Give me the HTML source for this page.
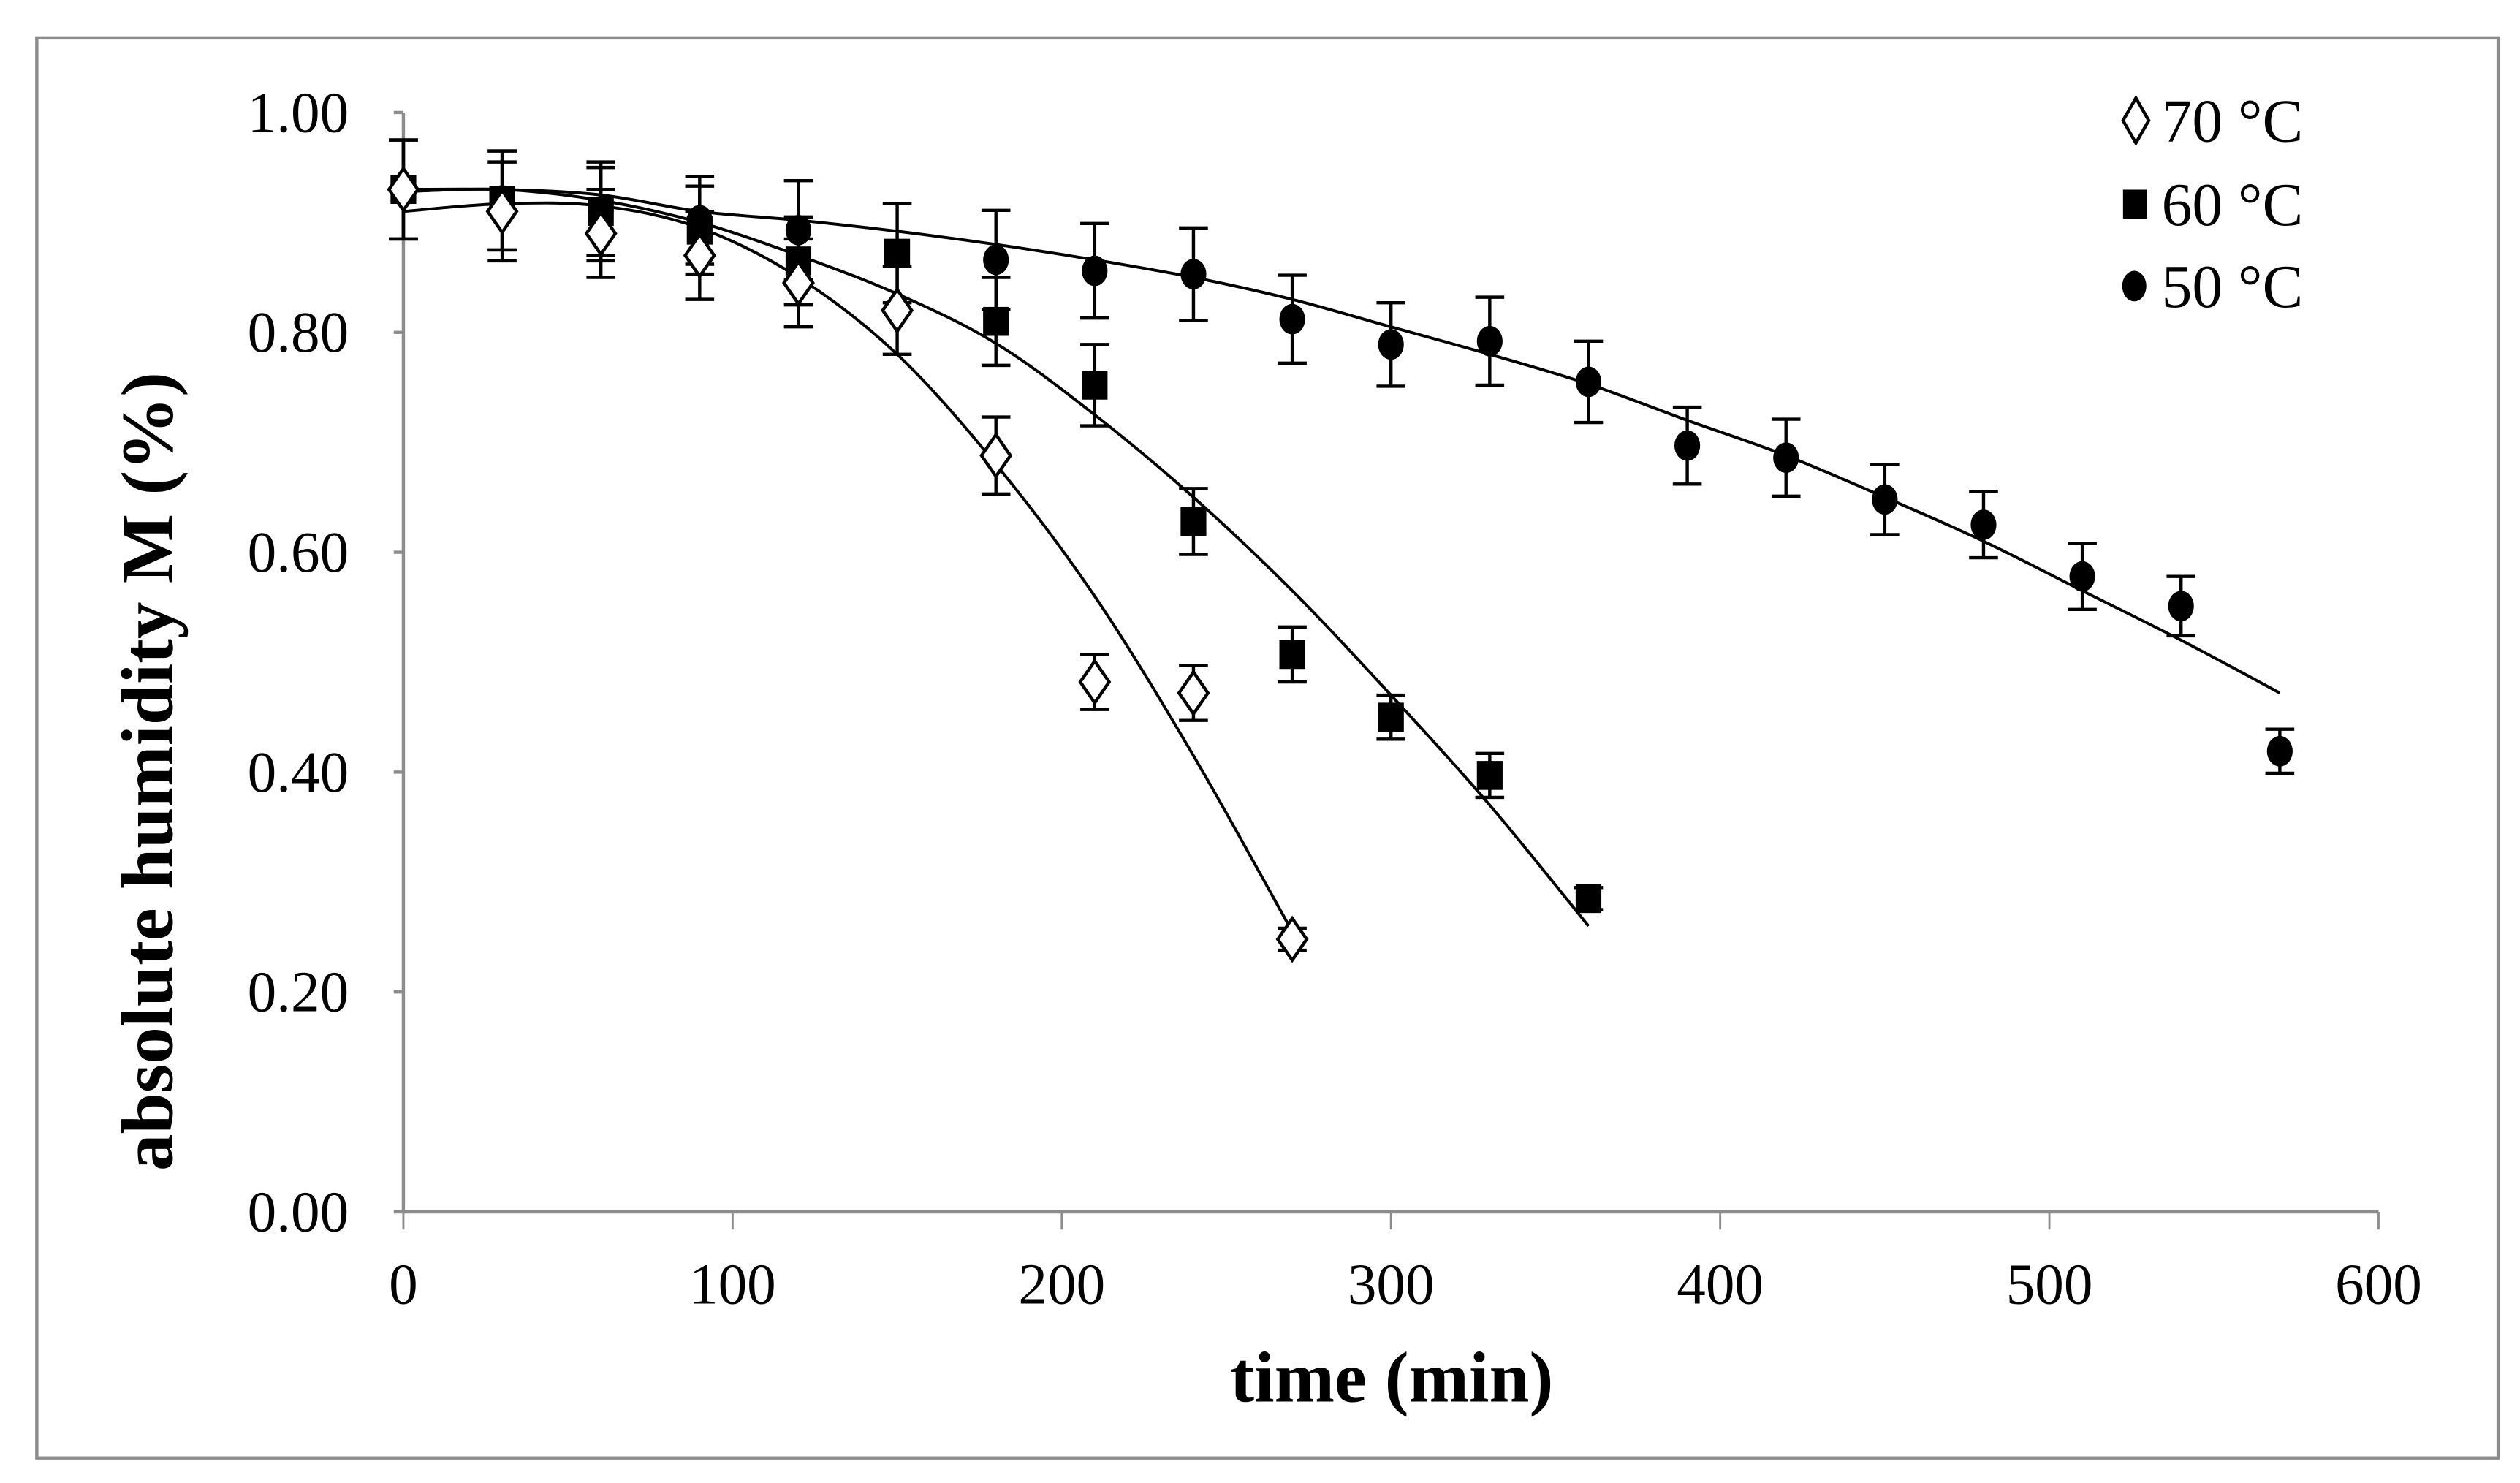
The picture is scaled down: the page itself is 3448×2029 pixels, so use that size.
<!DOCTYPE html>
<html><head><meta charset="utf-8"><style>html,body{margin:0;padding:0;background:#fff}svg{display:block}text{font-family:"Liberation Serif",serif}</style></head>
<body>
<svg id="chart" width="3448" height="2029" viewBox="0 0 1568 922.7" xmlns="http://www.w3.org/2000/svg">
<rect x="22.9" y="23.6" width="1531.5" height="883.5" fill="#fff" stroke="#8c8c8c" stroke-width="2"/>
<g id="axes"></g>
<g id="marks"></g>
<g>
<path d="M1329,61 L1337,75 L1329,89 L1321,75 Z" fill="#fff" stroke="#000" stroke-width="2"/>
<text x="1345" y="88" font-size="38">70 °C</text>
<rect x="1321" y="118" width="15" height="18" fill="#000"/>
<text x="1345" y="140" font-size="38">60 °C</text>
<ellipse cx="1328" cy="178" rx="7.5" ry="9.5" fill="#000"/>
<text x="1345" y="191" font-size="38">50 °C</text>
</g>
<text x="866" y="872" font-size="45" font-weight="bold" text-anchor="middle">time (min)</text>
<text transform="translate(107,480) rotate(-90)" font-size="46" font-weight="bold" text-anchor="middle">absolute humidity M (%)</text>
</svg>
<script>
const xTicks = [0,100,200,300,400,500,600];
const yTicks = [0,0.2,0.4,0.6,0.8,1.0];
const yTickLabels = ["0.00","0.20","0.40","0.60","0.80","1.00"];
const t70 = [0,30,60,90,120,150,180,210,240,270];
const m70 = [0.93,0.91,0.89,0.87,0.845,0.82,0.688,0.482,0.472,0.248];
const e70 = [0.045,0.045,0.04,0.04,0.04,0.04,0.035,0.025,0.025,0.01];
const t60 = [0,30,60,90,120,150,180,210,240,270,300,330,360];
const m60 = [0.93,0.92,0.91,0.893,0.865,0.872,0.81,0.752,0.628,0.507,0.45,0.397,0.285];
const e60 = [0.045,0.045,0.045,0.04,0.04,0.045,0.04,0.037,0.03,0.025,0.02,0.02,0.01];
const t50 = [0,30,60,90,120,180,210,240,270,300,330,360,390,420,450,480,510,540,570];
const m50 = [0.93,0.92,0.91,0.902,0.893,0.866,0.856,0.853,0.812,0.789,0.792,0.755,0.697,0.686,0.648,0.625,0.578,0.551,0.419];
const e50 = [0.045,0.045,0.04,0.04,0.045,0.045,0.043,0.042,0.04,0.038,0.04,0.037,0.035,0.035,0.032,0.03,0.03,0.027,0.02];
const fitT50 = [0,30,60,90,120,150,180,210,240,270,300,330,360,390,420,450,480,510,540,570];
const fit70 = [0.91,0.917,0.915,0.895,0.85,0.78,0.68,0.56,0.415,0.255];
const fit60 = [0.928,0.93,0.92,0.9,0.87,0.835,0.79,0.725,0.65,0.565,0.47,0.37,0.26];
const fit50 = [0.93,0.93,0.925,0.91,0.902,0.892,0.88,0.866,0.85,0.83,0.805,0.78,0.753,0.72,0.688,0.65,0.61,0.565,0.52,0.472];

const NS="http://www.w3.org/2000/svg";
const X0=251, X1=1480, Y0=754, Y1=70;
function xs(v){return X0+(v/600)*(X1-X0);}
function ys(v){return Y0-(v/1.0)*(Y0-Y1);}
function mk(tag,attrs,parent){const e=document.createElementNS(NS,tag);for(const k in attrs)e.setAttribute(k,attrs[k]);parent.appendChild(e);return e;}
const axes=document.getElementById('axes'), marks=document.getElementById('marks');
let a=mk('line',{x1:X0,y1:Y0,x2:X1,y2:Y0,stroke:'#8c8c8c','stroke-width':2},axes);


a=mk('line',{x1:X0,y1:Y0,x2:X0,y2:Y1,stroke:'#8c8c8c','stroke-width':2},axes);


xTicks.forEach(v=>{
  const l=mk('line',{x1:xs(v),y1:Y0,x2:xs(v),y2:Y0+11,stroke:'#8c8c8c','stroke-width':1.3},axes);
  
  
  const t=mk('text',{x:xs(v),y:811,'font-size':36,'text-anchor':'middle'},axes);
  t.textContent=String(v);
  
  
});
yTicks.forEach((v,i)=>{
  const l=mk('line',{x1:X0-6,y1:ys(v),x2:X0,y2:ys(v),stroke:'#8c8c8c','stroke-width':2},axes);
  
  
  const t=mk('text',{x:217,y:ys(v)+12,'font-size':36,'text-anchor':'end'},axes);
  t.textContent=yTickLabels[i];
  
  
});
function curve(ts,vals,name){
  const p=ts.map((t,i)=>[xs(t),ys(vals[i])]);
  let d='M'+p[0][0]+','+p[0][1];
  for(let i=0;i<p.length-1;i++){
    const p0=p[i-1]||p[i],p1=p[i],p2=p[i+1],p3=p[i+2]||p2;
    const c1=[p1[0]+(p2[0]-p0[0])/6,p1[1]+(p2[1]-p0[1])/6];
    const c2=[p2[0]-(p3[0]-p1[0])/6,p2[1]-(p3[1]-p1[1])/6];
    d+=' C'+c1+' '+c2+' '+p2;
  }
  const e=mk('path',{d:d,fill:'none',stroke:'#000','stroke-width':1.8},marks);
  
  
}
function errs(ts,vals,er,name){
  ts.forEach((t,i)=>{
    const x=xs(t),y1=ys(vals[i]+er[i]),y2=ys(vals[i]-er[i]);
    const g=mk('path',{d:`M${x},${y1}V${y2}M${x-9},${y1}H${x+9}M${x-9},${y2}H${x+9}`,stroke:'#000','stroke-width':2,fill:'none'},marks);
    
    
  });
}
errs(t50,m50,e50,'error-bar-50');
errs(t60,m60,e60,'error-bar-60');
errs(t70,m70,e70,'error-bar-70');
curve(fitT50,fit50,'fit-curve-50');
curve(t60,fit60,'fit-curve-60');
curve(t70,fit70,'fit-curve-70');
t50.forEach((t,i)=>{
  const e=mk('ellipse',{cx:xs(t),cy:ys(m50[i]),rx:8,ry:9.5,fill:'#000'},marks);
  
  
});
t60.forEach((t,i)=>{
  const e=mk('rect',{x:xs(t)-8,y:ys(m60[i])-9,width:16,height:18,fill:'#000'},marks);
  
  
});
t70.forEach((t,i)=>{
  const x=xs(t),y=ys(m70[i]);
  const e=mk('path',{d:`M${x},${y-13}L${x+9},${y}L${x},${y+13}L${x-9},${y}Z`,fill:'#fff',stroke:'#000','stroke-width':2},marks);
  
  
});
</script>
</body></html>
